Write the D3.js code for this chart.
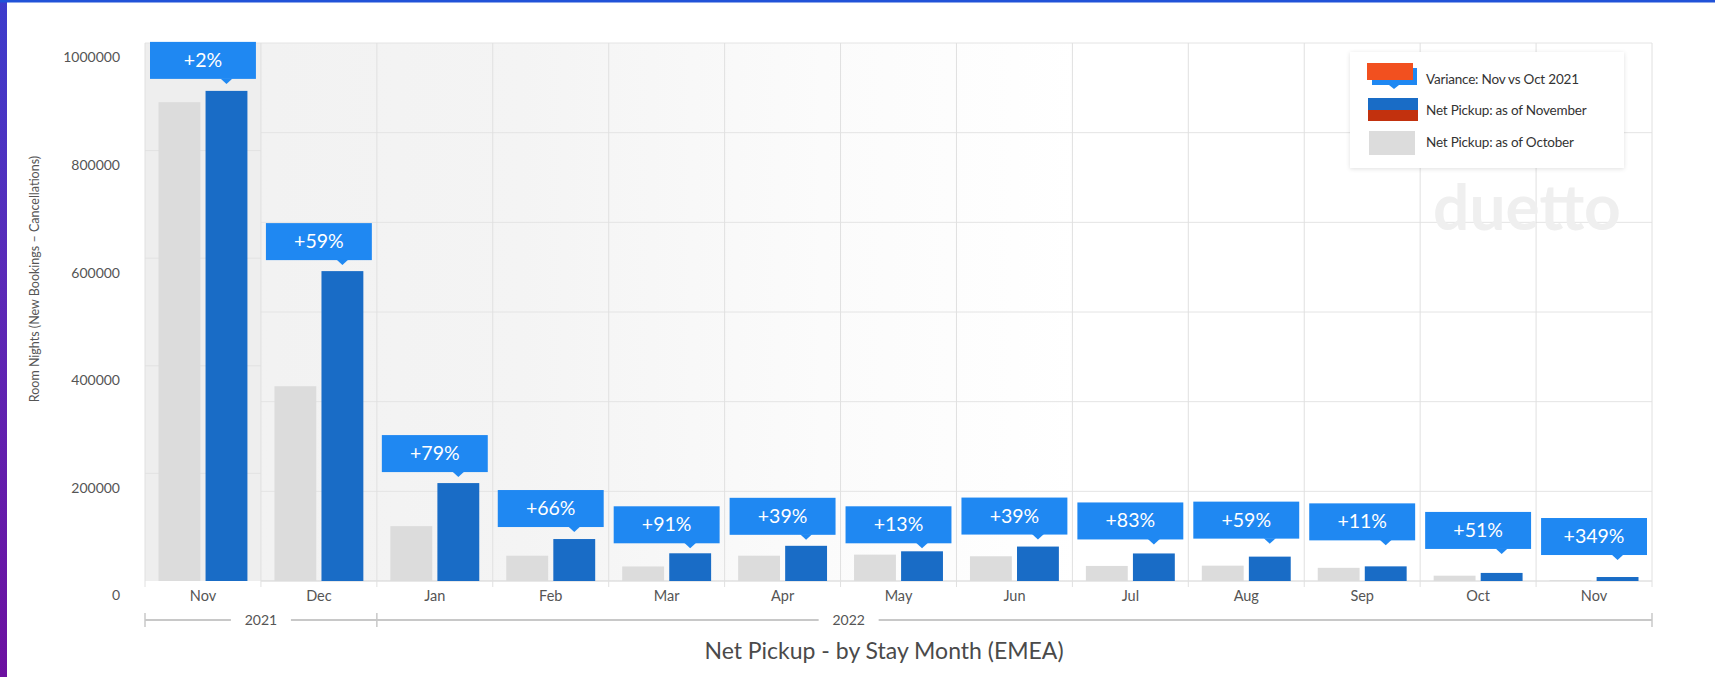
<!DOCTYPE html>
<html><head><meta charset="utf-8">
<script src="https://cdn.jsdelivr.net/npm/d3@7"></script>
<style>
html,body{margin:0;padding:0;background:#fff;}
svg{display:block;font-family:Lato,"Open Sans",sans-serif;}
</style></head><body>
<svg id="chart" width="1715" height="677"></svg>
<script>
// ---------- data ----------
const months = ["Nov","Dec","Jan","Feb","Mar","Apr","May","Jun","Jul","Aug","Sep","Oct","Nov"];
const asOfOctober  = [890000,362000,102000,47000,27000,47000,49000,46000,28000,28500,24500,9900,1650];
const asOfNovember = [911000,576000,182000,78000,51500,65400,55200,64000,51200,45300,27200,15000,7400];
const variance = ["+2%","+59%","+79%","+66%","+91%","+39%","+13%","+39%","+83%","+59%","+11%","+51%","+349%"];
const yTickValues = [0,200000,400000,600000,800000,1000000];
const yearLabels = ["2021","2022"];
const yearMonthCounts = [2,11];
const legendLabels = ["Variance: Nov vs Oct 2021","Net Pickup: as of November","Net Pickup: as of October"];

// ---------- layout ----------
const W = 1715, H = 677;
const plot = {left:145, right:1652, top:43, bottom:581};
const calloutLift = [12,11,11,12,10,11,8,12,14,18,26,24,22]; // gap between callout box and bar top (px)
const yearLabelFrac = [0.5, 0.37];
const C = {
  gray:"#dcdcdc", blue:"#196cc6", callout:"#1f88f2", orange:"#f2501f", darkRed:"#c2310e",
  grid:"#e4e4e4", text:"#555"
};

const svg = d3.select("#chart");
const defs = svg.append("defs");

// background frame strips (screenshot edges)
const lg = defs.append("linearGradient").attr("id","leftStrip").attr("x1",0).attr("x2",0).attr("y1",0).attr("y2",1);
lg.append("stop").attr("offset","0%").attr("stop-color","#3c3ccc");
lg.append("stop").attr("offset","40%").attr("stop-color","#5a2ab8");
lg.append("stop").attr("offset","100%").attr("stop-color","#6c10a0");
svg.append("rect").attr("x",0).attr("y",0).attr("width",W).attr("height",H).attr("fill","#fff");
svg.append("rect").attr("x",0).attr("y",0).attr("width",7).attr("height",H).attr("fill","url(#leftStrip)");
svg.append("rect").attr("x",0).attr("y",0).attr("width",W).attr("height",2.5).attr("fill","#2152d8");

// plot background gradient
const bg = defs.append("linearGradient").attr("id","plotBg").attr("x1",0).attr("x2",1).attr("y1",0).attr("y2",0);
bg.append("stop").attr("offset","0%").attr("stop-color","#f1f1f1");
bg.append("stop").attr("offset","25%").attr("stop-color","#f4f4f4");
bg.append("stop").attr("offset","45%").attr("stop-color","#fbfbfb");
bg.append("stop").attr("offset","62%").attr("stop-color","#ffffff");
svg.append("rect").attr("x",plot.left).attr("y",plot.top)
  .attr("width",plot.right-plot.left).attr("height",plot.bottom-plot.top).attr("fill","url(#plotBg)");

// scales
const x = d3.scaleBand().domain(d3.range(months.length)).range([plot.left, plot.right]).padding(0);
const inner = d3.scaleBand().domain(["oct","nov"]).range([13.5, x.bandwidth()-13.5]).paddingInner(0.11);
const y = d3.scaleLinear().domain([0,1000000]).range([plot.bottom, plot.top]);
const gridRows = d3.scaleLinear().domain([0,6]).range([plot.bottom, plot.top]);

// first-column shaded band
svg.append("rect").attr("x",x(0)).attr("y",plot.top).attr("width",x.bandwidth()).attr("height",plot.bottom-plot.top)
  .attr("fill","#eeeeee");
svg.append("g").selectAll("line").data(yTickValues.slice(1,-1)).join("line")
  .attr("x1",x(0)).attr("x2",x(0)+x.bandwidth()).attr("y1",d=>y(d)).attr("y2",d=>y(d))
  .attr("stroke","#e2e2e2");

// main grid (6 rows)
svg.append("g").selectAll("line").data(d3.range(0,7)).join("line")
  .attr("x1",d=> d===6 ? plot.left : x(1)).attr("x2",plot.right)
  .attr("y1",d=>gridRows(d)).attr("y2",d=>gridRows(d))
  .attr("stroke",d=> d===0 ? "#d2d2d2" : C.grid);
// column separators
svg.append("g").selectAll("line").data(d3.range(months.length+1)).join("line")
  .attr("x1",i=> i<months.length ? x(i) : plot.right).attr("x2",i=> i<months.length ? x(i) : plot.right)
  .attr("y1",plot.top).attr("y2",plot.bottom+6).attr("stroke","#e0e0e0");

// watermark
svg.append("text").attr("x",1527).attr("y",230).attr("text-anchor","middle")
  .attr("font-size",64).attr("font-weight",700).attr("fill","#efefef").text("duetto");

// bars
const groups = svg.append("g").selectAll("g").data(months).join("g")
  .attr("transform",(d,i)=>`translate(${x(i)},0)`);
groups.append("rect").attr("x",inner("oct")).attr("width",inner.bandwidth())
  .attr("y",(d,i)=>y(asOfOctober[i])).attr("height",(d,i)=>plot.bottom-y(asOfOctober[i])).attr("fill",C.gray);
groups.append("rect").attr("x",inner("nov")).attr("width",inner.bandwidth())
  .attr("y",(d,i)=>y(asOfNovember[i])).attr("height",(d,i)=>plot.bottom-y(asOfNovember[i])).attr("fill",C.blue);

// callouts
const boxW = x.bandwidth()-10, boxH = 37;
const call = groups.append("g");
call.append("rect")
  .attr("x",(x.bandwidth()-boxW)/2).attr("width",boxW).attr("height",boxH)
  .attr("y",(d,i)=>y(asOfNovember[i]) - calloutLift[i] - boxH).attr("fill",C.callout);
call.append("path").attr("fill",C.callout).attr("d",(d,i)=>{
  const cx = inner("nov")+inner.bandwidth()/2, b = y(asOfNovember[i]) - calloutLift[i];
  return `M${cx-6},${b-0.5}L${cx+6},${b-0.5}L${cx},${b+5}Z`;
});
call.append("text").attr("x",x.bandwidth()/2).attr("text-anchor","middle")
  .attr("y",(d,i)=>y(asOfNovember[i]) - calloutLift[i] - boxH/2 + 6.5)
  .attr("font-size",19.5).attr("fill","#fff").text((d,i)=>variance[i]);

// y axis
const yAxis = svg.append("g").attr("transform",`translate(${plot.left},0)`)
  .call(d3.axisLeft(y).tickValues(yTickValues).tickFormat(d3.format("d")).tickSize(0).tickPadding(25));
yAxis.select(".domain").remove();
yAxis.selectAll("text").attr("dy","1.35em").attr("font-size",14).attr("fill",C.text).attr("font-family","Lato");

// x axis
const xAxis = svg.append("g").attr("transform",`translate(0,${plot.bottom})`)
  .call(d3.axisBottom(x).tickFormat(i=>months[i]).tickSize(0).tickPadding(10));
xAxis.select(".domain").remove();
xAxis.selectAll("text").attr("font-size",14.5).attr("fill",C.text).attr("font-family","Lato");

// year grouping axis
const yearY = 620;
const bounds = [0]; yearMonthCounts.forEach(c=>bounds.push(bounds[bounds.length-1]+c));
const edge = i => i<months.length ? x(i) : plot.right;
const ya = svg.append("g");
ya.append("line").attr("x1",plot.left).attr("x2",plot.right).attr("y1",yearY).attr("y2",yearY)
  .attr("stroke","#c8c8c8").attr("stroke-width",2);
ya.selectAll(".tk").data(bounds).join("line").attr("class","tk")
  .attr("x1",edge).attr("x2",edge).attr("y1",yearY-7).attr("y2",yearY+7)
  .attr("stroke","#c8c8c8").attr("stroke-width",1.5);
yearLabels.forEach((lab,k)=>{
  const x0 = edge(bounds[k]), x1 = edge(bounds[k+1]);
  const cx = x0 + (x1-x0)*yearLabelFrac[k];
  ya.append("rect").attr("x",cx-30).attr("y",yearY-6).attr("width",60).attr("height",12).attr("fill","#fff");
  ya.append("text").attr("x",cx).attr("y",yearY+5).attr("text-anchor","middle")
    .attr("font-size",14).attr("fill",C.text).text(lab);
});

// titles
svg.append("text").attr("x",884).attr("y",659).attr("text-anchor","middle")
  .attr("font-size",23).attr("fill","#4a4a4a").text("Net Pickup - by Stay Month (EMEA)");
svg.append("text").attr("transform","translate(39,279) rotate(-90)").attr("text-anchor","middle")
  .attr("font-size",12.5).attr("fill",C.text).text("Room Nights (New Bookings – Cancellations)");

// legend
const sh = defs.append("filter").attr("id","shadow").attr("x","-10%").attr("y","-10%").attr("width","120%").attr("height","130%");
sh.append("feDropShadow").attr("dx",0).attr("dy",1).attr("stdDeviation",2).attr("flood-color","#000").attr("flood-opacity",0.12);
const lgd = svg.append("g").attr("transform","translate(1350,52)");
lgd.append("rect").attr("width",274).attr("height",116).attr("fill","#fff").attr("filter","url(#shadow)");
// variance icon
lgd.append("rect").attr("x",22).attr("y",16).attr("width",45).attr("height",17).attr("fill",C.callout);
lgd.append("path").attr("d","M39,33L49,33L44,37Z").attr("fill",C.callout);
lgd.append("rect").attr("x",17).attr("y",11).attr("width",46).attr("height",17).attr("fill",C.orange);
// november icon
lgd.append("rect").attr("x",18).attr("y",46).attr("width",50).attr("height",12).attr("fill",C.blue);
lgd.append("rect").attr("x",18).attr("y",58).attr("width",50).attr("height",11).attr("fill",C.darkRed);
// october icon
lgd.append("rect").attr("x",19).attr("y",79).attr("width",46).attr("height",24).attr("fill",C.gray);
lgd.selectAll(".lt").data(legendLabels).join("text").attr("class","lt")
  .attr("x",76).attr("y",(d,i)=>[28,59,91][i]+4).attr("font-size",13.5).attr("fill","#333")
  .attr("letter-spacing","-0.2").text(d=>d);
</script>
</body></html>
